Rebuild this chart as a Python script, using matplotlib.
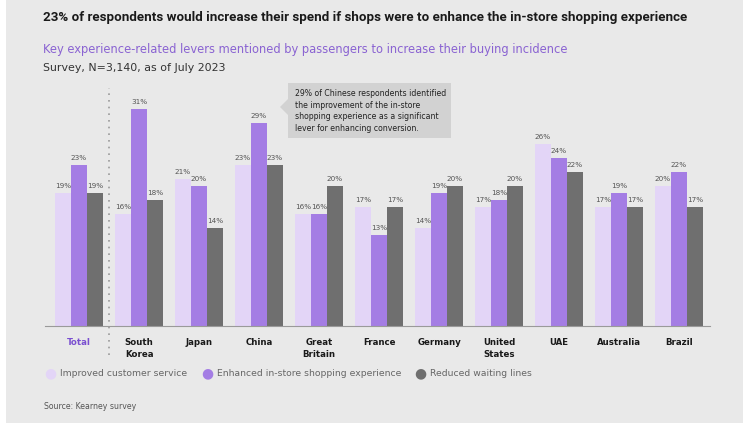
import numpy as np
import matplotlib
matplotlib.use("Agg")
import matplotlib.pyplot as plt
from matplotlib.patches import Rectangle, Polygon

W, H = 743, 423

categories = ["Total", "South\nKorea", "Japan", "China", "Great\nBritain", "France",
              "Germany", "United\nStates", "UAE", "Australia", "Brazil"]
service = [19, 16, 21, 23, 16, 17, 14, 17, 26, 17, 20]
instore = [23, 31, 20, 29, 16, 13, 19, 18, 24, 19, 22]
waiting = [19, 18, 14, 23, 20, 17, 20, 20, 22, 17, 17]
series_names = ["Improved customer service", "Enhanced in-store shopping experience",
                "Reduced waiting lines"]

c_light = "#e3d5f7"
c_purple = "#a47de4"
c_gray = "#6f6f6f"
bg = "#e9e9e9"

plt.rcParams['font.family'] = ['DejaVu Sans']


def px(x, y):
    # pixel (from top-left) -> figure fraction
    return x / W, 1 - y / H


fig = plt.figure(figsize=(W / 100, H / 100), dpi=100)
fig.patch.set_facecolor("white")
fig.patches.append(Rectangle(px(6, H), 1, 1, transform=fig.transFigure,
                             facecolor=bg, edgecolor="none", zorder=-10))

# titles
fig.text(*px(43, 17), "23% of respondents would increase their spend if shops were to enhance the in-store shopping experience",
         fontsize=9.65, fontweight="bold", color="#1a1a1a", va="center", family="Roboto")
fig.text(*px(43, 50), "Key experience-related levers mentioned by passengers to increase their buying incidence",
         fontsize=8.3, color="#8a63d2", va="center")
fig.text(*px(43, 68), "Survey, N=3,140, as of July 2023",
         fontsize=7.9, color="#333333", va="center")

# axes
left, right, top, base = 45, 710, 90, 326
ax = fig.add_axes([left / W, 1 - base / H, (right - left) / W, (base - top) / H])
ax.set_facecolor("none")
x = np.arange(len(categories))
ax.set_xlim((left - 79) / 60, (right - 79) / 60)
ax.set_ylim(0, (base - top) / 7)
bw = 16 / 60
for vals, col, off in [(service, c_light, -bw), (instore, c_purple, 0), (waiting, c_gray, bw)]:
    bars = ax.bar(x + off, vals, width=bw, color=col, edgecolor="none")
    for b, v in zip(bars, vals):
        ax.annotate(f"{v}%", (b.get_x() + b.get_width() / 2, v), xytext=(0, 3),
                    textcoords="offset points", ha="center", va="bottom",
                    fontsize=5.2, color="#555555")
for s in ["top", "left", "right"]:
    ax.spines[s].set_visible(False)
ax.spines["bottom"].set_color("#9a9a9a")
ax.spines["bottom"].set_linewidth(0.8)
ax.set_yticks([])
ax.set_xticks([])

# category labels
for i, cat in enumerate(categories):
    ax.text(i, -12 / 7, cat, ha="center", va="top", fontsize=6.2, fontweight="bold",
            color="#7a4fd0" if i == 0 else "#1a1a1a", linespacing=1.45, clip_on=False)

# dotted separator after Total
ax.plot([0.5, 0.5], [-29 / 7, (base - 88) / 7], ls=(0, (1, 3)), color="#9a9a9a",
        lw=1.2, clip_on=False)

# callout box
fig.patches.append(Rectangle(px(288, 138), (451 - 288) / W, (138 - 83) / H,
                             transform=fig.transFigure, facecolor="#d2d2d2",
                             edgecolor="none"))
fig.patches.append(Polygon([px(288, 99), px(280, 107), px(288, 115)], closed=True,
                           transform=fig.transFigure, facecolor="#d2d2d2",
                           edgecolor="none"))
fig.text(*px(295, 111), "29% of Chinese respondents identified\nthe improvement of the in-store\n"
         "shopping experience as a significant\nlever for enhancing conversion.",
         fontsize=5.6, color="#222222", va="center", linespacing=1.4)

# legend
for lx, col, name in [(50, c_light, series_names[0]), (207, c_purple, series_names[1]),
                      (420, c_gray, series_names[2])]:
    fig.text(*px(lx, 373), "\u25cf", fontsize=10, color=col, ha="center", va="center")
    fig.text(*px(lx + 10, 373), name, fontsize=6.7, color="#666666", va="center")

fig.text(*px(44, 406), "Source: Kearney survey", fontsize=5.6, color="#555555", va="center")

fig.savefig("out.png", dpi=100, facecolor=fig.get_facecolor())
